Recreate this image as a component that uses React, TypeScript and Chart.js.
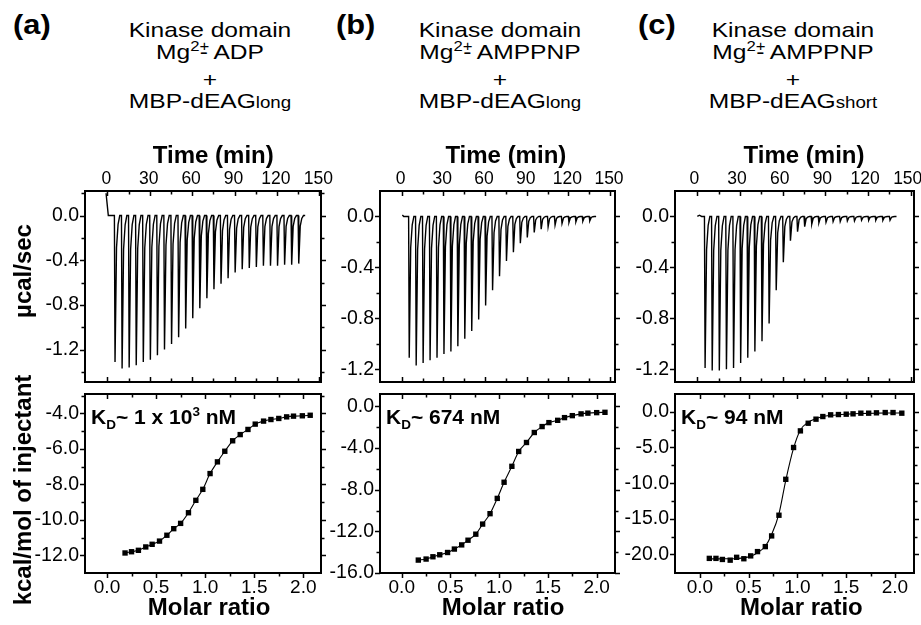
import React, { useEffect, useRef } from "react";
import { Chart, registerables } from "chart.js";

Chart.register(...registerables);

const FONT = '"Liberation Sans", Arial, Helvetica, sans-serif';
const PAGE_W = 921;
const PAGE_H = 625;

// ---------------- tick values ----------------
const timeTicks = [0, 30, 60, 90, 120, 150];
const timeMinorTicks = [15, 45, 75, 105, 135];
const molarTicks = [0, 0.5, 1.0, 1.5, 2.0];
const molarMinorTicks = [0.25, 0.75, 1.25, 1.75];
const powerTicks = [0, -0.4, -0.8, -1.2];
const powerMinorTicksA = [0.2, -0.2, -0.6, -1.0, -1.4];
const powerMinorTicksBC = [-0.2, -0.6, -1.0];
const heatTicksA = [-4, -6, -8, -10, -12];
const heatMinorTicksA = [-3, -5, -7, -9, -11];
const heatTicksB = [0, -4, -8, -12, -16];
const heatMinorTicksB = [-2, -6, -10, -14];
const heatTicksC = [0, -5, -10, -15, -20];
const heatMinorTicksC = [-2.5, -7.5, -12.5, -17.5];

// ---------------- raw thermograms (µcal/sec) ----------------
const injectionTimes = [5, 10, 15, 20, 25, 30, 35, 40, 45, 50, 55, 60, 65, 70, 75, 80, 85, 90, 95, 100, 105, 110, 115, 120, 125, 130, 135];
const peaksA = [-1.31, -1.37, -1.36, -1.34, -1.31, -1.29, -1.25, -1.2, -1.15, -1.09, -1.01, -0.92, -0.83, -0.74, -0.66, -0.61, -0.56, -0.51, -0.48, -0.47, -0.46, -0.45, -0.45, -0.45, -0.44, -0.44, -0.43];
const peaksB = [-1.11, -1.17, -1.15, -1.13, -1.11, -1.08, -1.06, -1.02, -0.96, -0.9, -0.81, -0.7, -0.58, -0.47, -0.35, -0.28, -0.21, -0.165, -0.126, -0.1, -0.08, -0.068, -0.055, -0.047, -0.042, -0.037, -0.034];
const peaksC = [-1.19, -1.21, -1.21, -1.2, -1.19, -1.15, -1.11, -1.06, -0.98, -0.84, -0.58, -0.36, -0.19, -0.12, -0.08, -0.06, -0.05, -0.045, -0.04, -0.04, -0.035, -0.035, -0.03, -0.03, -0.03, -0.03, -0.03];
const startTraceA = [{ x: -0.9, y: 0.2 }, { x: 0.7, y: 0 }];
const startTraceB = [{ x: 0.5, y: 0.012 }, { x: 1.5, y: 0 }];
const startTraceC = [{ x: 0, y: 0 }, { x: 1.5, y: 0.01 }, { x: 3, y: 0 }];
const traceEnd = 140;

// ---------------- integrated heats (kcal/mol of injectant) ----------------
const molarA = [0.184, 0.25, 0.32, 0.395, 0.46, 0.535, 0.61, 0.68, 0.75, 0.83, 0.905, 0.976, 1.05, 1.125, 1.2, 1.28, 1.357, 1.436, 1.51, 1.595, 1.67, 1.75, 1.83, 1.9, 1.99, 2.07];
const heatA = [-11.87, -11.8, -11.72, -11.53, -11.38, -11.2, -10.87, -10.5, -10.2, -9.6, -8.9, -8.28, -7.39, -6.73, -6.13, -5.54, -5.19, -4.9, -4.6, -4.43, -4.34, -4.28, -4.19, -4.15, -4.13, -4.1];
const molarB = [0.17, 0.25, 0.32, 0.39, 0.47, 0.54, 0.615, 0.68, 0.76, 0.83, 0.906, 0.98, 1.05, 1.13, 1.2, 1.28, 1.36, 1.44, 1.51, 1.6, 1.67, 1.75, 1.84, 1.91, 2.0, 2.085];
const heatB = [-14.76, -14.66, -14.44, -14.25, -14.03, -13.7, -13.3, -12.85, -12.27, -11.3, -10.3, -8.83, -7.28, -5.75, -4.32, -3.46, -2.5, -1.93, -1.55, -1.33, -1.07, -0.88, -0.71, -0.64, -0.59, -0.56];
const molarC = [0.096, 0.164, 0.23, 0.31, 0.376, 0.45, 0.52, 0.59, 0.67, 0.735, 0.81, 0.88, 0.96, 1.03, 1.11, 1.19, 1.26, 1.34, 1.42, 1.5, 1.57, 1.65, 1.73, 1.81, 1.9, 1.98, 2.07];
const heatC = [-20.55, -20.55, -20.7, -20.8, -20.4, -20.6, -20.2, -19.6, -18.9, -17.4, -14.5, -9.46, -5.0, -2.67, -1.6, -1.03, -0.66, -0.42, -0.38, -0.33, -0.28, -0.19, -0.19, -0.14, -0.1, -0.1, -0.19];
const fitC = [-20.62, -20.62, -20.61, -20.6, -20.56, -20.48, -20.25, -19.75, -18.85, -17.2, -14.3, -9.6, -5.1, -2.55, -1.45, -0.95, -0.66, -0.5, -0.4, -0.33, -0.28, -0.24, -0.21, -0.19, -0.17, -0.16, -0.15];

type Pt = { x: number; y: number };

function thermogram(start: Pt[], times: number[], peaks: number[], end: number): Pt[] {
  const pts: Pt[] = [...start];
  times.forEach((t, i) => {
    const p = peaks[i];
    pts.push(
      { x: t, y: 0 },
      { x: t + 0.45, y: p },
      { x: t + 1.5, y: p * 0.22 },
      { x: t + 2.6, y: p * 0.06 },
      { x: t + 3.8, y: 0 }
    );
  });
  pts.push({ x: end, y: 0 });
  return pts;
}

function pairs(xs: number[], ys: number[]): Pt[] {
  return xs.map((x, i) => ({ x, y: ys[i] }));
}

type KDPart = { t: string; s: number; dy: number };

interface Panel {
  kind: "raw" | "fit";
  left: number;
  right: number;
  top: number;
  bottom: number;
  xMin: number;
  xMax: number;
  yMin: number;
  yMax: number;
  yTicks: number[];
  yMinor: number[];
  datasets: any[];
  labelShift?: number;
  yTitle?: { text: string; x: number; y: number };
  kd?: KDPart[];
}

const rawDataset = (pts: Pt[]) => ({
  data: pts,
  borderColor: "#000",
  borderWidth: 1.4,
  pointRadius: 0,
  tension: 0,
  fill: false,
});

const fitDatasets = (xs: number[], ys: number[], fit: number[]) => [
  {
    data: pairs(xs, fit),
    borderColor: "#000",
    borderWidth: 1.1,
    pointRadius: 0,
    cubicInterpolationMode: "monotone",
    fill: false,
  },
  {
    data: pairs(xs, ys),
    showLine: false,
    pointStyle: "rect",
    pointRadius: 3.8,
    backgroundColor: "#000",
    borderColor: "#000",
    borderWidth: 0,
  },
];

const kdParts = (value: string, sup?: string): KDPart[] => {
  const parts: KDPart[] = [
    { t: "K", s: 21, dy: 0 },
    { t: "D", s: 13.5, dy: 5 },
    { t: "~ " + value, s: 21, dy: 0 },
  ];
  if (sup) parts.push({ t: sup, s: 13.5, dy: -8 });
  parts.push({ t: " nM", s: 21, dy: 0 });
  return parts;
};

const panels: Panel[] = [
  {
    kind: "raw", left: 85, right: 321, top: 191, bottom: 382,
    xMin: -15.8, xMax: 151.2, yMin: -1.49, yMax: 0.22,
    yTicks: powerTicks, yMinor: powerMinorTicksA,
    datasets: [rawDataset(thermogram(startTraceA, injectionTimes, peaksA, traceEnd))],
    labelShift: -1,
    yTitle: { text: "µcal/sec", x: 31, y: 271 },
  },
  {
    kind: "raw", left: 380, right: 615, top: 191, bottom: 382,
    xMin: -15.6, xMax: 153.6, yMin: -1.3, yMax: 0.2,
    yTicks: powerTicks, yMinor: powerMinorTicksBC,
    datasets: [rawDataset(thermogram(startTraceB, injectionTimes, peaksB, traceEnd))],
    labelShift: -1,
  },
  {
    kind: "raw", left: 675, right: 914, top: 191, bottom: 382,
    xMin: -15.7, xMax: 152.3, yMin: -1.3, yMax: 0.2,
    yTicks: powerTicks, yMinor: powerMinorTicksBC,
    datasets: [rawDataset(thermogram(startTraceC, injectionTimes, peaksC, traceEnd))],
    labelShift: -3,
  },
  {
    kind: "fit", left: 85, right: 321, top: 394, bottom: 573,
    xMin: -0.224, xMax: 2.18, yMin: -13.0, yMax: -2.9,
    yTicks: heatTicksA, yMinor: heatMinorTicksA,
    datasets: fitDatasets(molarA, heatA, heatA),
    yTitle: { text: "kcal/mol of injectant", x: 31, y: 490 },
    kd: kdParts("1 x 10", "3"),
  },
  {
    kind: "fit", left: 380, right: 615, top: 394, bottom: 573,
    xMin: -0.223, xMax: 2.188, yMin: -16, yMax: 1.2,
    yTicks: heatTicksB, yMinor: heatMinorTicksB,
    datasets: fitDatasets(molarB, heatB, heatB),
    kd: kdParts("674"),
  },
  {
    kind: "fit", left: 675, right: 914, top: 394, bottom: 573,
    xMin: -0.256, xMax: 2.195, yMin: -22.6, yMax: 2.5,
    yTicks: heatTicksC, yMinor: heatMinorTicksC,
    datasets: fitDatasets(molarC, heatC, fitC),
    kd: kdParts("94"),
  },
];

const X_AXIS_H = 30;
const Y_AXIS_W = 60;

function decoPlugin(p: Panel) {
  const isRaw = p.kind === "raw";
  const xMajor = isRaw ? timeTicks : molarTicks;
  const xMinor = isRaw ? timeMinorTicks : molarMinorTicks;
  return {
    id: "deco",
    afterDraw(chart: any) {
      const { ctx, chartArea: a } = chart;
      const xs = chart.scales.x;
      const ys = chart.scales.y;
      ctx.save();
      ctx.strokeStyle = "#000";
      ctx.fillStyle = "#000";
      ctx.lineWidth = 1.5;
      ctx.beginPath();
      const xTick = (v: number, len: number) => {
        const px = Math.round(xs.getPixelForValue(v)) + 0.5;
        ctx.moveTo(px, a.top);
        ctx.lineTo(px, a.top + len);
        if (isRaw) {
          ctx.moveTo(px, a.bottom);
          ctx.lineTo(px, a.bottom - len);
        } else {
          ctx.moveTo(px, a.bottom);
          ctx.lineTo(px, a.bottom + len);
        }
      };
      const yTick = (v: number, len: number) => {
        const py = Math.round(ys.getPixelForValue(v)) + 0.5;
        ctx.moveTo(a.left, py);
        ctx.lineTo(a.left - len, py);
        ctx.moveTo(a.right, py);
        ctx.lineTo(a.right + len, py);
      };
      xMajor.forEach((v) => xTick(v, 5));
      xMinor.forEach((v) => xTick(v, 3.5));
      p.yTicks.forEach((v) => yTick(v, 5));
      p.yMinor.forEach((v) => yTick(v, 3.5));
      ctx.stroke();
      // frame
      ctx.lineWidth = 2;
      ctx.strokeRect(a.left, a.top, a.right - a.left, a.bottom - a.top);

      // axis titles
      ctx.font = `bold 24px ${FONT}`;
      ctx.textAlign = "center";
      ctx.textBaseline = "alphabetic";
      if (isRaw) {
        ctx.fillText("Time (min)", xs.getPixelForValue(75), a.top - 28);
      } else {
        ctx.fillText("Molar ratio", xs.getPixelForValue(1.04), a.bottom + 42);
      }
      if (p.yTitle) {
        ctx.save();
        ctx.translate(p.yTitle.x, p.yTitle.y);
        ctx.rotate(-Math.PI / 2);
        ctx.fillText(p.yTitle.text, 0, 0);
        ctx.restore();
      }
      // KD annotation
      if (p.kd) {
        let x = a.left + 6;
        const base = a.top + 30;
        ctx.textAlign = "left";
        p.kd.forEach((part) => {
          ctx.font = `bold ${part.s}px ${FONT}`;
          ctx.fillText(part.t, x, base + part.dy);
          x += ctx.measureText(part.t).width;
        });
      }
      ctx.restore();
    },
  };
}

function buildConfig(p: Panel): any {
  const isRaw = p.kind === "raw";
  const xMajor = isRaw ? timeTicks : molarTicks;
  return {
    type: "line",
    data: { datasets: p.datasets },
    options: {
      responsive: false,
      animation: false,
      events: [],
      layout: {
        padding: {
          left: p.left - Y_AXIS_W,
          right: PAGE_W - p.right,
          top: isRaw ? p.top - X_AXIS_H : p.top,
          bottom: isRaw ? PAGE_H - p.bottom : PAGE_H - p.bottom - X_AXIS_H,
        },
      },
      plugins: {
        legend: { display: false },
        tooltip: { enabled: false },
        title: { display: false },
      },
      scales: {
        x: {
          type: "linear",
          position: isRaw ? "top" : "bottom",
          min: p.xMin,
          max: p.xMax,
          grid: { display: false, drawTicks: false },
          border: { display: false },
          afterBuildTicks: (s: any) => {
            s.ticks = xMajor.map((v) => ({ value: v }));
          },
          afterFit: (s: any) => {
            s.height = X_AXIS_H;
            s.paddingLeft = 0;
            s.paddingRight = 0;
          },
          ticks: {
            color: "#000",
            font: { family: FONT, size: isRaw ? 17.5 : 19 },
            padding: isRaw ? 1 : 3,
            labelOffset: p.labelShift || 0,
            autoSkip: false,
            maxRotation: 0,
            minRotation: 0,
            callback: (v: any) => (isRaw ? String(v) : Number(v).toFixed(1)),
          },
        },
        y: {
          type: "linear",
          position: "left",
          min: p.yMin,
          max: p.yMax,
          grid: { display: false, drawTicks: false },
          border: { display: false },
          afterBuildTicks: (s: any) => {
            s.ticks = p.yTicks.map((v) => ({ value: v }));
          },
          afterFit: (s: any) => {
            s.width = Y_AXIS_W;
            s.paddingTop = 0;
            s.paddingBottom = 0;
          },
          ticks: {
            color: "#000",
            font: { family: FONT, size: 19.5 },
            padding: 6,
            autoSkip: false,
            callback: (v: any) => Number(v).toFixed(1),
          },
        },
      },
    },
    plugins: [decoPlugin(p)],
  };
}

function PanelChart({ panel }: { panel: Panel }) {
  const ref = useRef<HTMLCanvasElement>(null);
  useEffect(() => {
    if (!ref.current) return;
    const chart = new Chart(ref.current, buildConfig(panel));
    return () => chart.destroy();
  }, [panel]);
  return (
    <canvas
      ref={ref}
      width={PAGE_W}
      height={PAGE_H}
      style={{ position: "absolute", left: 0, top: 0, width: PAGE_W, height: PAGE_H }}
    />
  );
}

// ---------------- headers ----------------
const HEADER_SIZE = 21;
const headerBaselines = [37, 59, 87, 108];

function HeaderLine({ cx, baseline, children }: { cx: number; baseline: number; children: React.ReactNode }) {
  return (
    <div
      style={{
        position: "absolute",
        left: cx,
        top: baseline - 0.8465 * HEADER_SIZE,
        fontSize: HEADER_SIZE,
        lineHeight: `${HEADER_SIZE}px`,
        whiteSpace: "nowrap",
        transform: "translateX(-50%) scaleX(1.17)",
        color: "#000",
      }}
    >
      {children}
    </div>
  );
}

const supStyle: React.CSSProperties = {
  fontSize: "0.68em",
  position: "relative",
  top: "-0.6em",
  lineHeight: 0,
};

function Header({ cx, nucleotide, construct }: { cx: number; nucleotide: string; construct: string }) {
  return (
    <>
      <HeaderLine cx={cx} baseline={headerBaselines[0]}>Kinase domain</HeaderLine>
      <HeaderLine cx={cx} baseline={headerBaselines[1]}>
        Mg<span style={supStyle}>2+</span>
        <span style={{ marginLeft: -8 }}>-</span> {nucleotide}
      </HeaderLine>
      <HeaderLine cx={cx} baseline={headerBaselines[2]}>+</HeaderLine>
      <HeaderLine cx={cx} baseline={headerBaselines[3]}>
        MBP-dEAG<span style={{ fontSize: 16 }}>{construct}</span>
      </HeaderLine>
    </>
  );
}

function PanelLetter({ left, text }: { left: number; text: string }) {
  const size = 28;
  return (
    <div
      style={{
        position: "absolute",
        left,
        top: 34.5 - 0.8465 * size,
        fontSize: size,
        lineHeight: `${size}px`,
        fontWeight: "bold",
        transform: "scaleX(1.1)",
        transformOrigin: "left",
        whiteSpace: "nowrap",
      }}
    >
      {text}
    </div>
  );
}

export default function App() {
  return (
    <div
      style={{
        position: "absolute",
        left: 0,
        top: 0,
        width: PAGE_W,
        height: PAGE_H,
        overflow: "hidden",
        background: "#fff",
        fontFamily: FONT,
      }}
    >
      <PanelLetter left={13} text="(a)" />
      <PanelLetter left={336} text="(b)" />
      <PanelLetter left={638} text="(c)" />
      <Header cx={210} nucleotide="ADP" construct="long" />
      <Header cx={500} nucleotide="AMPPNP" construct="long" />
      <Header cx={793} nucleotide="AMPPNP" construct="short" />
      {panels.map((p, i) => (
        <PanelChart key={i} panel={p} />
      ))}
    </div>
  );
}
